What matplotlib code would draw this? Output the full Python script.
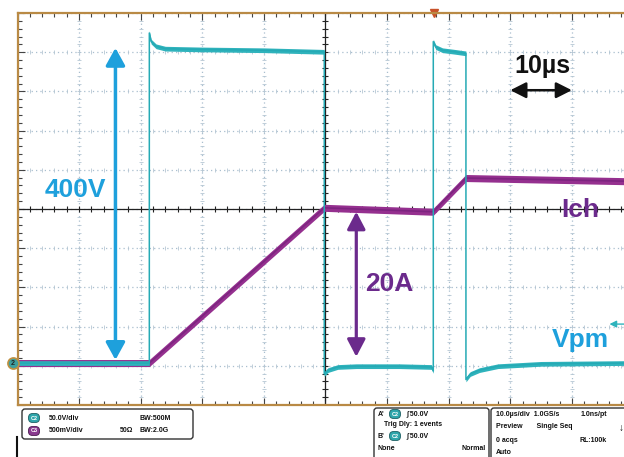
import numpy as np
import matplotlib
matplotlib.use("Agg")
import matplotlib.pyplot as plt
from matplotlib.patches import FancyBboxPatch

plt.rcParams['font.family'] = ['Liberation Sans', 'DejaVu Sans']

# SCOPE SETTINGS
T_DIV = 10.0        # us / div
V_DIV = 50.0        # V / div   (C2 = Vpm)
I_DIV = 5.0         # A / div   (C3 = Ich)
ZERO_DIV = -3.93    # ground level of both traces, divisions from centre
T_SPAN = 98.46      # visible part of the 10 div screen, us

# C2 : Vpm
vpm_t = [0, 21.4, 21.4, 21.7, 22.5, 24.0, 30.0, 40.0, 49.8, 49.8, 50.4, 52.0,
         55.0, 62.0, 67.2, 67.5, 67.5, 67.9, 69.0, 71.0, 72.8, 72.8, 73.5,
         75.0, 78.0, 85.0, 98.5]
vpm_v = [0, 0, 421, 410, 404, 401, 400, 399, 397, -14, -9, -5,
         -4, -4, -5, -10, 410, 403, 399, 397, 395, -21, -14,
         -9, -4, -1, 0]

# C3 : Ich
ich_t = [0, 21.4, 49.8, 67.5, 72.8, 98.5]
ich_a = [0, 0, 19.8, 19.3, 23.6, 23.2]

# bottom status panel
ch_rows = [("C2", "50.0V/div", "", "BW:500M"),
           ("C3", "500mV/div", "50Ω", "BW:2.0G")]
trig_rows = ["Trig Dly: 1 events"]
time_rows = [("10.0µs/div  1.0GS/s", "1.0ns/pt"),
             ("Preview       Single Seq", ""),
             ("0 acqs", "RL:100k"),
             ("Auto", "")]

VPM_C = "#2fb3bc"
ICH_C = "#95308f"
BLUE = "#1ea0dc"
PURPLE = "#6b2a8c"
FRAME = "#b98a45"

W, H = 624, 457
fig = plt.figure(figsize=(W / 100, H / 100), dpi=100)
fig.patch.set_facecolor("white")

# screen area in pixels: x 17.5 -> 624, y 13 -> 405
ax = fig.add_axes([17.5 / W, 1 - 405 / H, (624 - 17.5) / W, 392 / H])
ax.set_xlim(0, T_SPAN)
ax.set_ylim(-5, 5)

major_x = np.arange(0, T_SPAN, T_DIV)
minor_x = np.arange(0, T_SPAN, T_DIV / 5)
major_y = np.arange(-5, 5.01, 1)
minor_y = np.arange(-5, 5.01, 0.2)
ax.set_xticks(major_x)
ax.set_xticks(minor_x, minor=True)
ax.set_yticks(major_y)
ax.set_yticks(minor_y, minor=True)
ax.tick_params(which="both", direction="in", top=True, bottom=True,
               left=True, right=False, labelbottom=False, labelleft=False,
               color="#444444", width=0.8)
ax.tick_params(which="major", length=5)
ax.tick_params(which="minor", length=3)
for s in ["left", "top", "bottom"]:
    ax.spines[s].set_color(FRAME)
    ax.spines[s].set_linewidth(1.6)
ax.spines["right"].set_visible(False)

# dotted graticule
ax.grid(True, which="major", color="#a9bfcf", ls=(0, (1, 2.5)), lw=0.9)
for gx in major_x[1:]:
    ax.plot(np.full_like(minor_y, gx), minor_y, ls="none", marker="_",
            ms=2.5, mew=0.6, color="#b5c6d3")
for gy in major_y[1:-1]:
    ax.plot(minor_x, np.full_like(minor_x, gy), ls="none", marker="|",
            ms=2.5, mew=0.6, color="#b5c6d3")

# centre cross with ticks
ax.axhline(0, color="#222222", lw=0.9)
ax.axvline(50, color="#222222", lw=0.9)
ax.plot(minor_x, np.zeros_like(minor_x), ls="none", marker="|", ms=4.5,
        mew=0.8, color="#222222")
ax.plot(np.full_like(minor_y, 50), minor_y, ls="none", marker="_", ms=4.5,
        mew=0.8, color="#222222")

# trigger position marker
ax.plot([67.6], [5], marker="v", ms=6, color="#c8522a", clip_on=False)

# channel axes
axi = ax.twinx()
axv = ax.twinx()
axi.set_ylim((-5 - ZERO_DIV) * I_DIV, (5 - ZERO_DIV) * I_DIV)
axv.set_ylim((-5 - ZERO_DIV) * V_DIV, (5 - ZERO_DIV) * V_DIV)
axi.axis("off")
axv.axis("off")

ia = np.array(ich_a)
axi.fill_between(ich_t, ia - 0.45, ia + 0.45, color=ICH_C, lw=0)
axi.plot(ich_t, ich_a, color="#7d2480", lw=1.2)

vv = np.array(vpm_v)
axv.fill_between(vpm_t, vv - 3.0, vv + 3.0, color=VPM_C, lw=0)
axv.plot(vpm_t, vpm_v, color="#25aab5", lw=1.1)

# ground marker "2"
axv.plot([-0.7], [0], marker="o", ms=8, mfc="#3d9fa0", mec="#c09040",
         mew=1.2, clip_on=False)
axv.text(-0.7, 0, "2", fontsize=5, fontweight="bold", ha="center",
         va="center", color="#222222", clip_on=False)

# offset arrow at right edge
axv.annotate("", xy=(96.1, 49.7), xytext=(99.5, 49.7),
             arrowprops=dict(arrowstyle="-|>,head_length=0.4,head_width=0.2",
                             color=VPM_C, lw=1, shrinkA=0, shrinkB=0),
             annotation_clip=False)

# annotations
axv.annotate("", xy=(15.9, 402), xytext=(15.9, 4),
             arrowprops=dict(arrowstyle="<|-|>,head_length=1.05,head_width=0.58",
                             color=BLUE, lw=2.5, shrinkA=0, shrinkB=0))
axv.text(4.4, 212, "400V", color=BLUE, fontsize=19, fontweight="bold",
         va="baseline")

axi.annotate("", xy=(55.0, 19.3), xytext=(55.0, 0.8),
             arrowprops=dict(arrowstyle="<|-|>,head_length=1.05,head_width=0.55",
                             color=PURPLE, lw=2.3, shrinkA=0, shrinkB=0))
axi.text(56.5, 9.2, "20A", color=PURPLE, fontsize=19, fontweight="bold",
         va="baseline")
axi.text(88.3, 18.6, "Ich", color=PURPLE, fontsize=19, fontweight="bold",
         va="baseline")
axv.text(86.7, 20.4, "Vpm", color=BLUE, fontsize=19, fontweight="bold",
         va="baseline")

axv.annotate("", xy=(90.0, 348), xytext=(80.0, 348),
             arrowprops=dict(arrowstyle="<|-|>,head_length=0.95,head_width=0.48",
                             color="#111111", lw=1.8, shrinkA=0, shrinkB=0))
axv.text(80.7, 370, "10µs", color="#111111", fontsize=18, fontweight="bold",
         va="baseline")

# STATUS PANEL (pixel coordinates)
ov = fig.add_axes([0, 0, 1, 1])
ov.set_xlim(0, W)
ov.set_ylim(H, 0)
ov.axis("off")

box = dict(boxstyle="round,pad=0,rounding_size=3", fc="white", ec="#333333",
           lw=1.0)
ov.add_patch(FancyBboxPatch((22, 409), 171, 30, **box))
ov.add_patch(FancyBboxPatch((374, 408), 115, 60, **box))
ov.add_patch(FancyBboxPatch((491, 408), 150, 60, **box))
ov.plot([17, 17], [437, 457], color="#111111", lw=1.5)

badge_c = {"C2": ("#2fa6ab", "#1b5e62"), "C3": ("#8a3a8f", "#4a1a50")}
txt = dict(fontsize=5, fontweight="bold", color="#111111", va="center")

for k, (ch, vdiv, imp, bw) in enumerate(ch_rows):
    y = 418 + 13 * k
    fc, ec = badge_c[ch]
    ov.text(34, y, ch, fontsize=4, fontweight="bold", color="white",
            ha="center", va="center",
            bbox=dict(boxstyle="round,pad=0.35,rounding_size=0.7", fc=fc,
                      ec=ec, lw=0.6))
    ov.text(49, y, vdiv, **txt)
    ov.text(120, y, imp, **txt)
    ov.text(140, y, bw, **txt)

for k, lab in enumerate(["A'", "B'"]):
    y = 414 + 22 * k
    ov.text(378, y, lab, **txt)
    ov.text(395, y, "C2", fontsize=4, fontweight="bold", color="white",
            ha="center", va="center",
            bbox=dict(boxstyle="round,pad=0.35,rounding_size=0.7",
                      fc=badge_c["C2"][0], ec=badge_c["C2"][1], lw=0.6))
    ov.text(406, y, "∫ 50.0V", **txt)
ov.text(384, 425, trig_rows[0], **txt)
ov.text(378, 448, "None", **txt)
ov.text(486, 448, "Normal", ha="right", **{k: v for k, v in txt.items()})

for k, (left, right) in enumerate(time_rows):
    y = 414 + 13 * k
    ov.text(496, y, left, **txt)
    if right:
        ov.text(607, y, right, ha="right", **txt)
ov.text(621, 428, "↓", fontsize=7, fontweight="bold", color="#111111",
        ha="center", va="center")

fig.savefig("out.png", dpi=100, facecolor="white")
